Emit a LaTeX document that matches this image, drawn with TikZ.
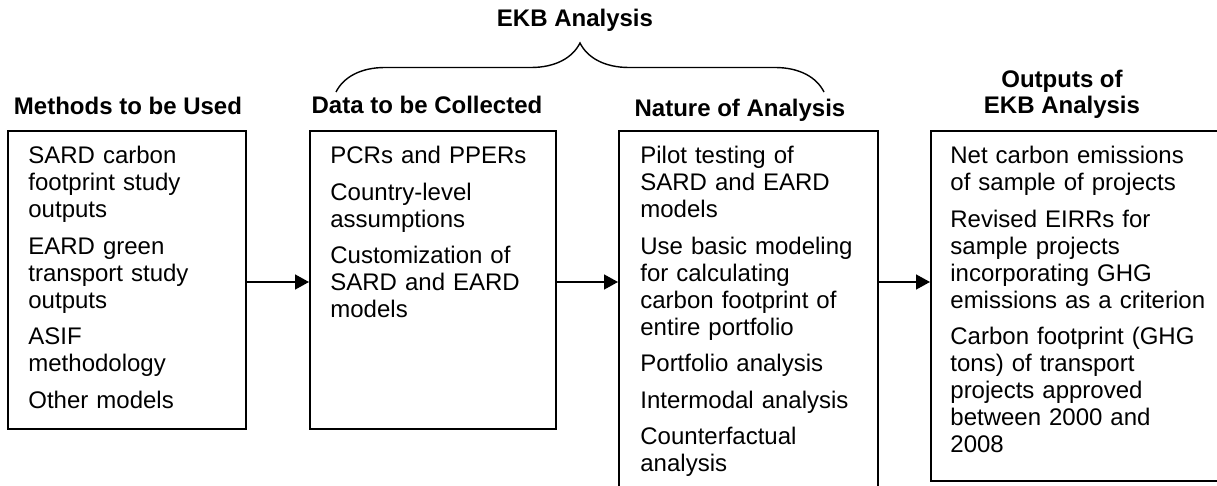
\documentclass[tikz,border=0pt]{standalone}
\usepackage{fontspec}
\setmainfont{Liberation Sans}
\usetikzlibrary{arrows.meta,decorations.pathreplacing}

\begin{document}
\begin{tikzpicture}[x=0.5pt, y=-0.5pt]
 \tikzstyle{cadre}=[draw, line width=1pt, anchor=north west, inner sep=0pt]
 \tikzstyle{texte}=[anchor=north west, inner sep=0pt, text width=140pt, align=left, font=\fontsize{12}{13.5}\selectfont]
 \tikzstyle{titre}=[inner sep=0pt, align=center, font=\fontsize{12}{13}\selectfont\bfseries]
 \tikzstyle{fleche}=[-{Triangle[length=7pt, width=7.5pt]}, line width=0.75pt]
 %
 \clip (0,0) rectangle (1217,486);
 %
 \node[titre, anchor=base] (tEKB) at (575,27) {EKB Analysis};
 \node[titre, anchor=base] (tM) at (128,115) {Methods to be Used};
 \node[titre, anchor=base] (tD) at (427,114) {Data to be Collected};
 \node[titre, anchor=base] (tN) at (740,117) {Nature of Analysis};
 \node[titre, anchor=north] (tO) at (1062,70) {Outputs of\\EKB Analysis};
 %
 \node[cadre, minimum width=119pt, minimum height=149pt] (M) at (7,130) {};
 \node[cadre, minimum width=123pt, minimum height=149pt] (D) at (309,130) {};
 \node[cadre, minimum width=129.5pt, minimum height=190pt] (N) at (618,130) {};
 \node[cadre, minimum width=150pt, minimum height=175pt] (O) at (930,130) {};
 %
 \node[texte] (xM) at (28,146) {SARD carbon\\footprint study\\outputs\\[4.75pt]EARD green\\transport study\\outputs\\[4.75pt]ASIF\\methodology\\[4.75pt]Other models};
 \node[texte] (xD) at (330,146) {PCRs and PPERs\\[4.75pt]Country-level\\assumptions\\[4.75pt]Customization of\\SARD and EARD\\models};
 \node[texte] (xN) at (640,146) {Pilot testing of\\SARD and EARD\\models\\[4.75pt]Use basic modeling\\for calculating\\carbon footprint of\\entire portfolio\\[4.75pt]Portfolio analysis\\[4.75pt]Intermodal analysis\\[4.75pt]Counterfactual\\analysis};
 \node[texte] (xO) at (950,146) {Net carbon emissions\\of sample of projects\\[4.75pt]Revised EIRRs for\\sample projects\\incorporating GHG\\emissions as a criterion\\[4.75pt]Carbon footprint (GHG\\tons) of transport\\projects approved\\between 2000 and\\2008};
 %
 \coordinate (fy) at (0,282);
 \coordinate (gA) at (336,92);
 \coordinate (gB) at (824,92);
 %%
 \draw[decorate, decoration={brace, amplitude=24.5pt}, line width=0.7pt] (gA) -- (gB);
 \draw[fleche] (M.east |- fy) -- (D.west |- fy);
 \draw[fleche] (D.east |- fy) -- (N.west |- fy);
 \draw[fleche] (N.east |- fy) -- (O.west |- fy);
\end{tikzpicture}
\end{document}
